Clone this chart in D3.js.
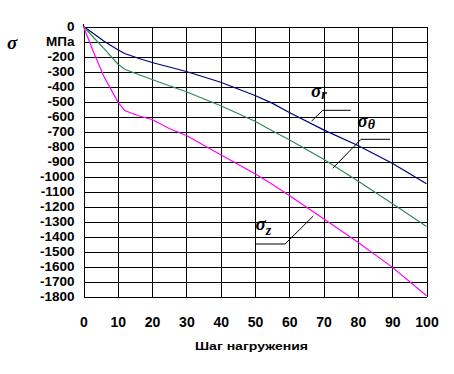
<!DOCTYPE html>
<html><head><meta charset="utf-8">
<script src="https://cdn.jsdelivr.net/npm/d3@7"></script>
<style>
html,body{margin:0;padding:0;background:#fff;}
svg{display:block;}
</style></head>
<body>
<script>
const steps = [0, 3, 6, 10, 12, 16, 20, 25, 30, 40, 50, 55, 60, 70, 80, 90, 100];
const sigmaR = [0, -48, -98, -155, -180, -212, -240, -270, -300, -372, -460, -511, -573, -689, -793, -911, -1049];
const sigmaTheta = [0, -75, -148, -250, -285, -320, -353, -395, -435, -528, -632, -695, -755, -885, -1030, -1180, -1333];
const sigmaZ = [0, -175, -335, -502, -560, -595, -620, -680, -727, -855, -982, -1052, -1127, -1282, -1438, -1604, -1795];
const xTicks = [0, 10, 20, 30, 40, 50, 60, 70, 80, 90, 100];
const yTicks = d3.range(0, -1801, -100);
const yTickLabels = ["0", "МПа", "-200", "-300", "-400", "-500", "-600", "-700", "-800", "-900", "-1000", "-1100", "-1200", "-1300", "-1400", "-1500", "-1600", "-1700", "-1800"];
const xTitle = "Шаг нагружения";
const series = [
  {name: "r", values: sigmaR, color: "#000080"},
  {name: "θ", values: sigmaTheta, color: "#2e8b57"},
  {name: "z", values: sigmaZ, color: "#ff00ff"}
];

const W = 454, H = 374;
const svg = d3.select("body").append("svg").attr("width", W).attr("height", H);
const x = d3.scaleLinear().domain([0, 100]).range([83.5, 426.5]);
const y = d3.scaleLinear().domain([-1800, 0]).range([296.5, 26.5]);
const tickFont = "'Liberation Sans', Arial, sans-serif";

// Left axis with horizontal grid
const gy = svg.append("g").attr("transform", `translate(${x(0)},0)`)
  .call(d3.axisLeft(y).tickValues(yTicks).tickSize(-(x(100) - x(0))).tickSizeOuter(0).tickPadding(9)
    .tickFormat((d, i) => yTickLabels[i]));
gy.selectAll("line").attr("stroke", "#000").attr("shape-rendering", "crispEdges");
gy.select(".domain").attr("stroke", "#000").attr("shape-rendering", "crispEdges");
gy.selectAll("text").attr("font-family", tickFont).attr("font-weight", "bold").attr("font-size", 13.5).attr("fill", "#000");

// Bottom axis with vertical grid
const gx = svg.append("g").attr("transform", `translate(0,${y(-1800)})`)
  .call(d3.axisBottom(x).tickValues(xTicks).tickSize(-(y(-1800) - y(0))).tickSizeOuter(0).tickPadding(21));
gx.selectAll("line").attr("stroke", "#000").attr("shape-rendering", "crispEdges");
gx.select(".domain").attr("stroke", "#000").attr("shape-rendering", "crispEdges");
gx.selectAll("text").attr("font-family", tickFont).attr("font-weight", "bold").attr("font-size", 14).attr("fill", "#000");

// small extension of vertical axis above 0
svg.append("line").attr("x1", x(0)).attr("x2", x(0)).attr("y1", y(0) - 3).attr("y2", y(0))
  .attr("stroke", "#000").attr("shape-rendering", "crispEdges");

// curves
const line = d3.line().x((d, i) => x(steps[i])).y(d => y(d));
svg.selectAll("path.curve").data(series).join("path").attr("class", "curve")
  .attr("d", d => line(d.values)).attr("fill", "none").attr("stroke", d => d.color).attr("stroke-width", 1.2);

// axis titles
svg.append("text").attr("x", 251.5).attr("y", 350).attr("text-anchor", "middle")
  .attr("font-family", tickFont).attr("font-weight", "bold").attr("font-size", 11.5)
  .attr("textLength", 113).attr("lengthAdjust", "spacingAndGlyphs").text(xTitle);

const serif = "'Liberation Serif', 'Times New Roman', serif";
svg.append("text").attr("x", 7).attr("y", 49).attr("font-family", serif).attr("font-style", "italic")
  .attr("font-weight", "bold").attr("font-size", 19).text("σ");

// annotations: label position, leader line
const ann = [
  {sub: "r", lx: 311, ly: 97, sdy: 2, pts: [[311.7, 121], [322.7, 110.3], [350.7, 110.3]]},
  {sub: "θ", lx: 357.5, ly: 127, sdy: 2, pts: [[332.7, 168.3], [361, 139.3], [390, 139.3]]},
  {sub: "z", lx: 255.5, ly: 230, sdy: 5, pts: [[313.3, 216], [285, 244], [256, 244]]}
];
ann.forEach(a => {
  const t = svg.append("text").attr("x", a.lx).attr("y", a.ly).attr("font-family", serif)
    .attr("font-style", "italic").attr("font-weight", "bold").attr("font-size", 19);
  t.append("tspan").text("σ");
  t.append("tspan").attr("dy", a.sdy).attr("font-size", 14).text(a.sub);
  svg.append("path").attr("d", d3.line()(a.pts)).attr("fill", "none").attr("stroke", "#000").attr("stroke-width", 1);
});
</script>
</body></html>
